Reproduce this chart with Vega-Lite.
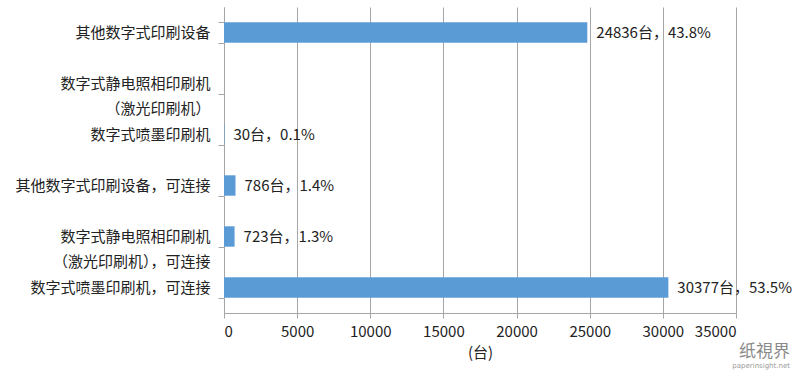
{
  "$schema": "https://vega.github.io/schema/vega-lite/v6.json",
  "autosize": "none",
  "width": 512,
  "height": 306,
  "padding": {"left": 224, "top": 7, "right": 64, "bottom": 66},
  "background": "white",
  "title": {
    "text": "纸視界",
    "subtitle": "paperinsight.net",
    "orient": "bottom",
    "anchor": "end",
    "frame": "group",
    "dx": 54,
    "dy": -20,
    "font": "Noto Sans CJK SC",
    "fontSize": 17,
    "fontWeight": "normal",
    "color": "#8a8a8a",
    "subtitleFont": "DejaVu Sans",
    "subtitleFontSize": 7,
    "subtitleColor": "#9a9a9a",
    "subtitlePadding": 1
  },
  "data": {
    "values": [
      {"cat": "其他数字式印刷设备", "value": 24836, "label": "24836台，43.8%"},
      {"cat": "数字式静电照相印刷机|（激光印刷机）", "value": 0, "label": ""},
      {"cat": "数字式喷墨印刷机", "value": 30, "label": "30台，0.1%"},
      {"cat": "其他数字式印刷设备，可连接", "value": 786, "label": "786台，1.4%"},
      {"cat": "数字式静电照相印刷机|（激光印刷机），可连接", "value": 723, "label": "723台，1.3%"},
      {"cat": "数字式喷墨印刷机，可连接", "value": 30377, "label": "30377台，53.5%"}
    ]
  },
  "encoding": {
    "y": {
      "field": "cat",
      "type": "nominal",
      "sort": null,
      "scale": {"paddingInner": 0.6, "paddingOuter": 0.3},
      "axis": {
        "title": null,
        "labelExpr": "split(datum.label, '|')",
        "labelFont": "Noto Sans CJK SC",
        "labelFontSize": 15,
        "labelColor": "#222222",
        "labelLineHeight": 25,
        "labelPadding": 8,
        "labelLimit": 300,
        "tickBand": "extent",
        "ticks": true,
        "tickSize": 6,
        "tickColor": "#a6a6a6",
        "domainColor": "#a6a6a6",
        "grid": false
      }
    },
    "x": {
      "field": "value",
      "type": "quantitative",
      "scale": {"domain": [0, 35000], "nice": false},
      "axis": {
        "title": "(台)",
        "titleFont": "Noto Sans CJK SC",
        "titleFontSize": 15,
        "titleFontWeight": "normal",
        "titleColor": "#222222",
        "titlePadding": 6,
        "values": [0, 5000, 10000, 15000, 20000, 25000, 30000, 35000],
        "format": "d",
        "labelFont": "Noto Sans CJK SC",
        "labelFontSize": 15,
        "labelColor": "#222222",
        "labelPadding": 6,
        "tickSize": 5,
        "tickColor": "#a6a6a6",
        "domainColor": "#a6a6a6",
        "gridColor": "#a6a6a6",
        "gridOpacity": 1
      }
    }
  },
  "layer": [
    {"mark": {"type": "bar", "color": "#5B9BD5"}},
    {
      "mark": {"type": "text", "align": "left", "dx": 9, "font": "Noto Sans CJK SC", "fontSize": 15, "color": "#222222"},
      "encoding": {
        "text": {"field": "label"}
      }
    }
  ],
  "config": {
    "view": {"stroke": null}
  }
}
